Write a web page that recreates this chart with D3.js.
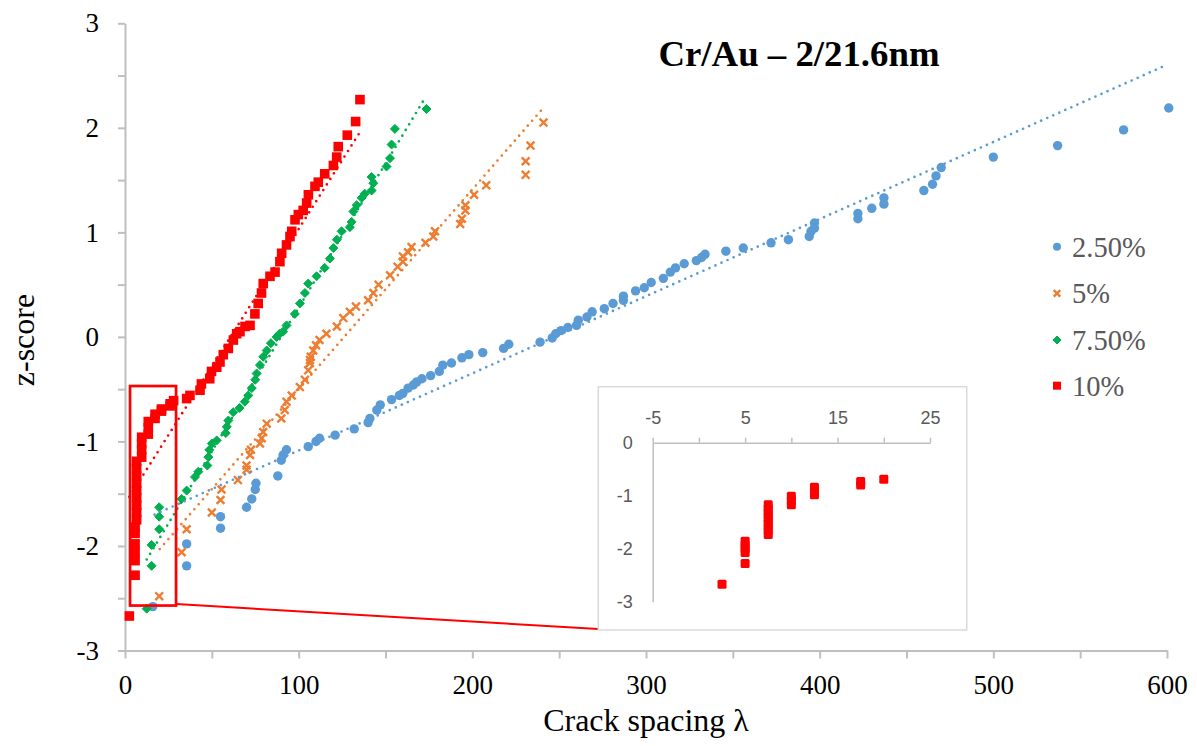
<!DOCTYPE html>
<html>
<head>
<meta charset="utf-8">
<script src="https://cdn.jsdelivr.net/npm/d3@7"></script>
<style>
  body { margin: 0; background: #fff; }
  svg { display: block; }
</style>
</head>
<body>
<div id="chart"></div>
<script>
// values: [crack spacing, z-score]
const series_names = ["2.50%", "5%", "7.50%", "10%"];
const series_colors = ["#5b9bd5", "#ed7d31", "#00b050", "#ff0000"];

const pts_25 = [[16,-2.58],[35.5,-2.19],[35.5,-1.98],[55,-1.83],[55,-1.72],[70,-1.63],[73,-1.55],[75,-1.46],[75.4,-1.40],
  [88,-1.33],[90,-1.18],[91,-1.13],[93,-1.08],[105.5,-1.05],[110,-1.00],[112,-0.97],[121,-0.94],[132,-0.88],[140,-0.82],
  [141,-0.78],[145,-0.70],[147,-0.65],[153.5,-0.60],[158,-0.56],[160,-0.54],[163,-0.49],[166,-0.46],[168,-0.43],[171,-0.40],
  [176,-0.37],[181,-0.33],[183,-0.27],[188,-0.25],[194,-0.20],[198,-0.17],[206,-0.15],[218,-0.11],[221,-0.07],[239,-0.05],
  [246,-0.01],[248,0.03],[251,0.06],[255,0.09],[260,0.11],[261,0.16],[266,0.19],[269,0.24],[276,0.27],[281,0.32],[287,0.35],
  [287,0.39],[294,0.44],[299,0.47],[303,0.52],[310,0.56],[314,0.62],[317,0.66],[322,0.70],[329,0.73],[332,0.76],[334,0.79],
  [346,0.82],[356,0.85],[372,0.90],[382,0.93],[394,0.96],[395,1.01],[397,1.04],[397,1.09],[422,1.13],[422,1.18],[430,1.23],
  [437,1.27],[437,1.33],[460,1.40],[465,1.46],[467,1.54],[470,1.62],[500,1.72],[537,1.83],[575,1.98],[601,2.19]];

const pts_5 = [[19.7,-2.48],[32.6,-2.06],[35.5,-1.84],[50,-1.68],[55,-1.56],[55.6,-1.46],[65,-1.37],[70,-1.27],[70,-1.23],
  [72,-1.13],[72.5,-1.08],[77.7,-1.02],[78.7,-0.97],[79.6,-0.91],[81.6,-0.83],[90,-0.78],[92,-0.70],[93,-0.62],[96,-0.56],
  [100.7,-0.48],[103.6,-0.41],[105.5,-0.32],[106.5,-0.25],[106.5,-0.22],[107,-0.19],[108.4,-0.13],[110,-0.08],[112,-0.03],
  [116,0.03],[122,0.10],[125.7,0.18],[129.5,0.24],[133,0.29],[140,0.35],[143,0.42],[146,0.50],[152.6,0.59],[157,0.67],
  [160,0.72],[160,0.77],[163,0.81],[165,0.86],[173,0.90],[177.5,0.96],[178.5,1.01],[193,1.08],[194,1.13],[196,1.21],
  [196,1.26],[201,1.36],[208,1.45],[230.7,1.55],[230.7,1.68],[233.5,1.83],[241,2.05]];

const pts_75 = [[12.5,-2.60],[15.3,-2.19],[15.3,-1.99],[19.7,-1.84],[19.7,-1.72],[19.7,-1.63],[32.6,-1.55],[35.5,-1.47],
  [40.3,-1.34],[42.2,-1.29],[47.4,-1.23],[48,-1.15],[48.6,-1.08],[50,-1.02],[52.8,-0.99],[58,-0.92],[58.6,-0.86],[59.5,-0.80],
  [62.3,-0.72],[66,-0.68],[69,-0.62],[71,-0.56],[73,-0.49],[75,-0.41],[75.8,-0.35],[77.7,-0.27],[79.6,-0.19],[81.6,-0.13],
  [84,-0.06],[87.3,0.00],[89,0.03],[91,0.05],[93,0.11],[97.8,0.22],[100.7,0.32],[103.6,0.42],[105.5,0.51],[110.3,0.58],
  [115,0.66],[118,0.75],[120,0.85],[122,0.93],[124.7,1.01],[129.5,1.05],[130.5,1.10],[131.5,1.20],[133.4,1.26],[136.3,1.33],
  [138,1.37],[142,1.40],[143,1.47],[142,1.53],[150.6,1.63],[152.6,1.71],[153.5,1.84],[155.4,1.99],[173.6,2.18]];

const pts_10 = [[2.5,-2.67],[5.8,-2.28],[5.8,-2.14],[5.8,-2.06],[5.8,-1.98],[5.8,-1.88],[5.8,-1.82],[6.7,-1.75],[6.7,-1.68],
  [6.7,-1.61],[6.7,-1.54],[6.7,-1.47],[6.7,-1.40],[6.7,-1.33],[6.7,-1.26],[6.7,-1.19],[9.6,-1.15],[9.6,-1.08],[9.6,-1.02],
  [9.6,-0.96],[13.4,-0.93],[13.4,-0.87],[13.4,-0.81],[17.3,-0.78],[17.3,-0.74],[21,-0.71],[21,-0.69],[26,-0.66],[26,-0.64],
  [28,-0.61],[35.5,-0.59],[37.4,-0.56],[43.2,-0.51],[44,-0.45],[48.8,-0.40],[49.8,-0.33],[52.8,-0.29],[54.7,-0.24],
  [56.6,-0.17],[59.5,-0.11],[62.4,-0.03],[64.3,0.03],[66.2,0.05],[69.1,0.10],[72,0.11],[74.8,0.22],[76.7,0.32],[78.6,0.42],
  [79.6,0.51],[83.5,0.58],[86.4,0.62],[89.2,0.72],[90.2,0.80],[93,0.88],[95,0.96],[96,1.01],[97.9,1.12],[99.8,1.17],
  [102.6,1.21],[104.6,1.28],[105.6,1.36],[109.4,1.44],[111.3,1.48],[115,1.56],[120,1.64],[121.9,1.72],[122.8,1.82],
  [128,1.93],[132.8,2.06],[135.3,2.27]];

// linear trendlines (z = a + b*x) over their x span
const trend_start = [17, 20, 12.5, 2.5];
const trend_end = [600, 241, 171.7, 135.3];
const trend_slope = [0.00738, 0.01911, 0.02755, 0.02628];
const trend_intercept = [-1.825, -2.412, -2.474, -1.596];

// zoom window on the main chart: [x0, x1, z0, z1]
const zoom_box = [2.9, 29.4, -2.57, -0.47];

// inset (close-up of 10% near the origin)
const inset_pts = [[2.5,-2.67],[5,-2.28],[5,-2.07],[5,-2.00],[5,-1.93],[5,-1.86],[7.5,-1.73],[7.5,-1.66],[7.5,-1.59],
  [7.5,-1.52],[7.5,-1.45],[7.5,-1.38],[7.5,-1.31],[7.5,-1.24],[7.5,-1.17],[10,-1.17],[10,-1.09],[10,-1.01],[12.5,-0.98],
  [12.5,-0.91],[12.5,-0.84],[17.5,-0.80],[17.5,-0.73],[20,-0.69]];
const inset_x_ticks = [-5, 0, 5, 10, 15, 20, 25];
const inset_x_labels = [-5, 5, 15, 25];
const inset_y_labels = [0, -1, -2, -3];

const x_ticks = [0, 50, 100, 150, 200, 250, 300, 350, 400, 450, 500, 550, 600];
const y_ticks = [-3, -2.5, -2, -1.5, -1, -0.5, 0, 0.5, 1, 1.5, 2, 2.5, 3];

const all_series = [pts_25, pts_5, pts_75, pts_10];

const width = 1197, height = 746;
const serif = "'Liberation Serif', 'Times New Roman', serif";
const axis_grey = "#bfbfbf";

const x_scale = d3.scaleLinear().domain([0, 600]).range([125, 1167]);
const y_scale = d3.scaleLinear().domain([-3, 3]).range([650.5, 23.3]);

const svg = d3.select("#chart").append("svg")
  .attr("width", width)
  .attr("height", height);

svg.append("rect").attr("width", width).attr("height", height).attr("fill", "#fff");

// axes
const x_axis = d3.axisBottom(x_scale).tickValues(x_ticks).tickSize(8).tickSizeOuter(0).tickPadding(16)
  .tickFormat(d => d % 100 === 0 ? String(d) : "");
const y_axis = d3.axisLeft(y_scale).tickValues(y_ticks).tickSize(7).tickSizeOuter(0).tickPadding(19)
  .tickFormat(d => Number.isInteger(d) ? String(d) : "");

const gx = svg.append("g").attr("transform", "translate(0," + y_scale(-3) + ")").call(x_axis);
const gy = svg.append("g").attr("transform", "translate(" + x_scale(0) + ",0)").call(y_axis);

[gx, gy].forEach(g => {
  g.select(".domain").attr("stroke", axis_grey).attr("stroke-width", 2);
  g.selectAll(".tick line").attr("stroke", axis_grey).attr("stroke-width", 2);
  g.selectAll(".tick text").attr("fill", "#000").style("font-family", serif).style("font-size", "27px");
});

svg.append("text")
  .attr("x", (x_scale(0) + x_scale(600)) / 2).attr("y", 731)
  .attr("text-anchor", "middle")
  .style("font-family", serif).style("font-size", "32px")
  .text("Crack spacing λ");

svg.append("text")
  .attr("transform", "translate(34,340) rotate(-90)")
  .attr("text-anchor", "middle")
  .style("font-family", serif).style("font-size", "32px")
  .text("z-score");

svg.append("text")
  .attr("x", 799).attr("y", 66)
  .attr("text-anchor", "middle")
  .style("font-family", serif).style("font-size", "36.8px").style("font-weight", "bold")
  .text("Cr/Au – 2/21.6nm");

// marker shapes
function draw_marker(g, kind, color, s) {
  if (kind === 0) {
    g.append("circle").attr("r", s / 2).attr("fill", color);
  } else if (kind === 1) {
    const h = s / 2;
    g.append("path").attr("d", `M${-h},${-h}L${h},${h}M${-h},${h}L${h},${-h}`)
      .attr("stroke", color).attr("stroke-width", 2.4).attr("fill", "none");
  } else if (kind === 2) {
    const h = s / 2;
    g.append("path").attr("d", `M0,${-h}L${h},0L0,${h}L${-h},0Z`).attr("fill", color)
      .attr("stroke", color).attr("stroke-width", 1).attr("stroke-linejoin", "round");
  } else {
    g.append("rect").attr("x", -s / 2).attr("y", -s / 2).attr("width", s).attr("height", s)
      .attr("fill", color);
  }
}
const marker_size = [9.4, 7.8, 9, 9.6];

all_series.forEach((pts, i) => {
  const layer = svg.append("g").attr("class", "series-" + i);
  pts.forEach(p => {
    const m = layer.append("g").attr("transform", "translate(" + x_scale(p[0]) + "," + y_scale(p[1]) + ")");
    draw_marker(m, i, series_colors[i], marker_size[i]);
  });
});

// dotted trendlines
const trend_line = d3.line().x(d => x_scale(d[0])).y(d => y_scale(d[1]));
series_names.forEach((name, i) => {
  const ends = [trend_start[i], trend_end[i]].map(v => [v, trend_intercept[i] + trend_slope[i] * v]);
  svg.append("path")
    .attr("d", trend_line(ends))
    .attr("fill", "none")
    .attr("stroke", series_colors[i])
    .attr("stroke-width", 2.7)
    .attr("stroke-linecap", "round")
    .attr("stroke-dasharray", "0 6.6");
});

// legend
const legend_y = [246.7, 293.3, 340, 385.7];
const legend_size = [8, 6.5, 8, 8];
series_names.forEach((name, i) => {
  const g = svg.append("g").attr("transform", "translate(1057," + legend_y[i] + ")");
  draw_marker(g, i, series_colors[i], legend_size[i]);
  g.append("text").attr("x", 15).attr("dy", "0.35em")
    .attr("fill", "#595959")
    .style("font-family", serif).style("font-size", "28.5px")
    .text(name);
});

// zoom box and connector
const bx0 = x_scale(zoom_box[0]), bx1 = x_scale(zoom_box[1]);
const by0 = y_scale(zoom_box[3]), by1 = y_scale(zoom_box[2]);
svg.append("rect")
  .attr("x", bx0).attr("y", by0).attr("width", bx1 - bx0).attr("height", by1 - by0)
  .attr("fill", "none").attr("stroke", "#ff0000").attr("stroke-width", 2.7);

const inset = { left: 598.3, top: 386.7, w: 368.4, h: 243.3 };
svg.append("line")
  .attr("x1", bx1).attr("y1", by1 - 1.5)
  .attr("x2", inset.left).attr("y2", inset.top + inset.h - 1)
  .attr("stroke", "#ff0000").attr("stroke-width", 2);

// inset chart
const ig = svg.append("g");
ig.append("rect")
  .attr("x", inset.left).attr("y", inset.top).attr("width", inset.w).attr("height", inset.h)
  .attr("fill", "#fff").attr("stroke", "#d9d9d9").attr("stroke-width", 1.5);

const ix = d3.scaleLinear().domain([-5, 25]).range([652.7, 930]);
const iy = d3.scaleLinear().domain([-3, 0]).range([601.7, 442.7]);
const sans = "'Liberation Sans', Arial, sans-serif";

const ix_axis = d3.axisTop(ix).tickValues(inset_x_ticks).tickSize(5).tickSizeOuter(0).tickPadding(14)
  .tickFormat(d => inset_x_labels.includes(d) ? String(d) : "");
const gix = ig.append("g").attr("transform", "translate(0," + iy(0) + ")").call(ix_axis);
gix.select(".domain").attr("stroke", axis_grey).attr("stroke-width", 1.5);
gix.selectAll(".tick line").attr("stroke", axis_grey).attr("stroke-width", 1.5);
gix.selectAll(".tick text").attr("fill", "#595959").style("font-family", sans).style("font-size", "18px");

const iy_axis = d3.axisLeft(iy).tickValues(inset_y_labels).tickSize(0).tickSizeOuter(0).tickPadding(20)
  .tickFormat(d => String(d));
const giy = ig.append("g").attr("transform", "translate(" + ix(-5) + ",0)").call(iy_axis);
giy.select(".domain").attr("stroke", axis_grey).attr("stroke-width", 1.5);
giy.selectAll(".tick text").attr("fill", "#595959").style("font-family", sans).style("font-size", "18px");

ig.selectAll("rect.ipt").data(inset_pts).join("rect")
  .attr("class", "ipt")
  .attr("x", d => ix(d[0]) - 4.5).attr("y", d => iy(d[1]) - 4.5)
  .attr("width", 9).attr("height", 9).attr("rx", 1.5)
  .attr("fill", "#ff0000");
</script>
</body>
</html>
